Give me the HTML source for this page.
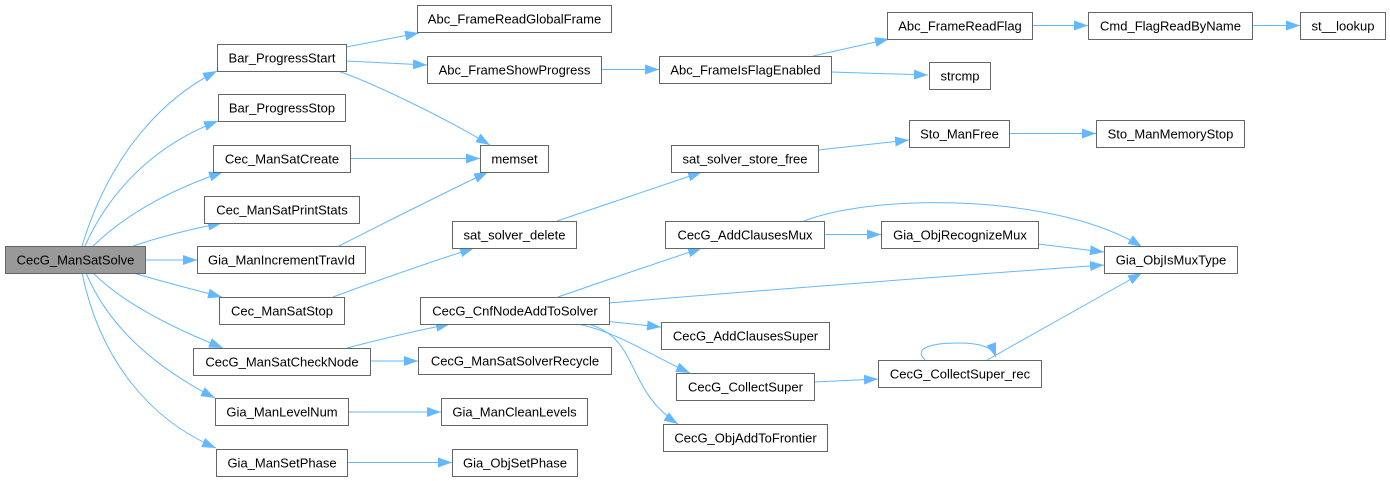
<!DOCTYPE html>
<html>
<head>
<meta charset="utf-8">
<style>
html,body{margin:0;padding:0;background:#fff;}
svg{display:block;}
text{font-family:"Liberation Sans",Arial,sans-serif;font-size:13px;fill:#000;}
.n{fill:#fff;stroke:#666;stroke-width:1;}
.r{fill:#999;stroke:#666;stroke-width:1;}
.e{fill:none;stroke:#63b8ff;stroke-width:1;}
</style>
</head>
<body>
<svg width="1390" height="481" viewBox="0 0 1390 481" xmlns="http://www.w3.org/2000/svg">
<defs>
<marker id="a" viewBox="0 0 14 10" refX="14" refY="5" markerWidth="14" markerHeight="10" markerUnits="userSpaceOnUse" orient="auto">
<path d="M0,0 L14,5 L0,10 z" fill="#63b8ff"/>
</marker>
</defs>

<!-- edges -->
<g>
<path class="e" marker-end="url(#a)" d="M82,246 C105,170 150,105 217,71"/>
<path class="e" marker-end="url(#a)" d="M85,246 C110,190 155,145 218,121"/>
<path class="e" marker-end="url(#a)" d="M93,246 C125,215 170,190 223,172"/>
<path class="e" marker-end="url(#a)" d="M133,246 Q175,232 222,223"/>
<path class="e" marker-end="url(#a)" d="M146,260 L197,260"/>
<path class="e" marker-end="url(#a)" d="M133,273 Q175,285 222,297"/>
<path class="e" marker-end="url(#a)" d="M93,273 C120,300 165,325 223,348"/>
<path class="e" marker-end="url(#a)" d="M86,273 C110,330 160,370 215,398"/>
<path class="e" marker-end="url(#a)" d="M82,273 C100,360 150,420 216,448"/>

<path class="e" marker-end="url(#a)" d="M346,47 L419,33"/>
<path class="e" marker-end="url(#a)" d="M346,61 L427,65"/>
<path class="e" marker-end="url(#a)" d="M338,71 C370,82 440,115 490,145"/>
<path class="e" marker-end="url(#a)" d="M350,158.5 L480,158.5"/>
<path class="e" marker-end="url(#a)" d="M337,247 C390,220 440,195 488,172"/>
<path class="e" marker-end="url(#a)" d="M601,69.5 L659,69.5"/>
<path class="e" marker-end="url(#a)" d="M813,56 L889,39"/>
<path class="e" marker-end="url(#a)" d="M831,72 L928,75"/>
<path class="e" marker-end="url(#a)" d="M1032,25.5 L1088,25.5"/>
<path class="e" marker-end="url(#a)" d="M1252,25.5 L1300,25.5"/>
<path class="e" marker-end="url(#a)" d="M333,297 Q400,272 474,248"/>
<path class="e" marker-end="url(#a)" d="M557,221 Q630,196 702,172"/>
<path class="e" marker-end="url(#a)" d="M818,150 L909,140"/>
<path class="e" marker-end="url(#a)" d="M1010,133.5 L1096,133.5"/>
<path class="e" marker-end="url(#a)" d="M347,348 Q400,334 450,324"/>
<path class="e" marker-end="url(#a)" d="M370,361 L418,361"/>
<path class="e" marker-end="url(#a)" d="M348,412 L441,412"/>
<path class="e" marker-end="url(#a)" d="M347,462.5 L452,462.5"/>
<path class="e" marker-end="url(#a)" d="M558,297 Q630,272 702,248"/>
<path class="e" marker-end="url(#a)" d="M609,303 Q850,283 1104,265"/>
<path class="e" marker-end="url(#a)" d="M609,321.5 L661,327"/>
<path class="e" marker-end="url(#a)" d="M578,324 C620,333 650,355 690,373"/>
<path class="e" marker-end="url(#a)" d="M588,324 C640,338 625,390 678,424"/>
<path class="e" marker-end="url(#a)" d="M824,234.5 L881,234.5"/>
<path class="e" marker-end="url(#a)" d="M804,221 C880,192 1060,195 1142,247"/>
<path class="e" marker-end="url(#a)" d="M1038,244 L1104,252"/>
<path class="e" marker-end="url(#a)" d="M814,382 L878,379"/>
<path class="e" marker-end="url(#a)" d="M987,360 L1142,273"/>
<path class="e" marker-end="url(#a)" d="M925,360 C912,347 935,343 958,343 C978,343 992,346 996,357"/>
</g>

<!-- nodes -->
<g text-anchor="middle">
<rect class="r" x="5.5" y="246.5" width="140" height="27"/><text x="75.5" y="264.5">CecG_ManSatSolve</text>

<rect class="n" x="217.5" y="44.5" width="129" height="27"/><text x="282" y="62.5">Bar_ProgressStart</text>
<rect class="n" x="218.5" y="94.5" width="127" height="27"/><text x="282" y="112.5">Bar_ProgressStop</text>
<rect class="n" x="213.5" y="145.5" width="137" height="27"/><text x="282" y="163.5">Cec_ManSatCreate</text>
<rect class="n" x="204.5" y="196.5" width="155" height="27"/><text x="282" y="214.5">Cec_ManSatPrintStats</text>
<rect class="n" x="197.5" y="246.5" width="168" height="27"/><text x="281.5" y="264.5">Gia_ManIncrementTravId</text>
<rect class="n" x="219.5" y="297.5" width="125" height="27"/><text x="282" y="315.5">Cec_ManSatStop</text>
<rect class="n" x="193.5" y="348.5" width="177" height="27"/><text x="282" y="366.5">CecG_ManSatCheckNode</text>
<rect class="n" x="215.5" y="398.5" width="133" height="27"/><text x="282" y="416.5">Gia_ManLevelNum</text>
<rect class="n" x="216.5" y="449.5" width="131" height="27"/><text x="282" y="467.5">Gia_ManSetPhase</text>

<rect class="n" x="417.5" y="5.5" width="194" height="27"/><text x="514.5" y="23.5">Abc_FrameReadGlobalFrame</text>
<rect class="n" x="427.5" y="56.5" width="174" height="27"/><text x="514.5" y="74.5">Abc_FrameShowProgress</text>
<rect class="n" x="480.5" y="145.5" width="68" height="27"/><text x="514.5" y="163.5">memset</text>
<rect class="n" x="452.5" y="221.5" width="124" height="27"/><text x="514.5" y="239.5">sat_solver_delete</text>
<rect class="n" x="420.5" y="297.5" width="189" height="27"/><text x="515" y="315.5">CecG_CnfNodeAddToSolver</text>
<rect class="n" x="418.5" y="347.5" width="193" height="27"/><text x="515" y="365.5">CecG_ManSatSolverRecycle</text>
<rect class="n" x="441.5" y="398.5" width="146" height="27"/><text x="514.5" y="416.5">Gia_ManCleanLevels</text>
<rect class="n" x="452.5" y="449.5" width="125" height="27"/><text x="515" y="467.5">Gia_ObjSetPhase</text>

<rect class="n" x="659.5" y="56.5" width="172" height="27"/><text x="745.5" y="74.5">Abc_FrameIsFlagEnabled</text>
<rect class="n" x="671.5" y="145.5" width="147" height="27"/><text x="745" y="163.5">sat_solver_store_free</text>
<rect class="n" x="665.5" y="221.5" width="159" height="27"/><text x="745" y="239.5">CecG_AddClausesMux</text>
<rect class="n" x="661.5" y="322.5" width="168" height="27"/><text x="745.5" y="340.5">CecG_AddClausesSuper</text>
<rect class="n" x="676.5" y="373.5" width="138" height="27"/><text x="745.5" y="391.5">CecG_CollectSuper</text>
<rect class="n" x="663.5" y="424.5" width="164" height="27"/><text x="745.5" y="442.5">CecG_ObjAddToFrontier</text>

<rect class="n" x="887.5" y="12.5" width="145" height="27"/><text x="960" y="30.5">Abc_FrameReadFlag</text>
<rect class="n" x="929.5" y="62.5" width="61" height="27"/><text x="960" y="80.5">strcmp</text>
<rect class="n" x="909.5" y="120.5" width="100" height="27"/><text x="959.5" y="138.5">Sto_ManFree</text>
<rect class="n" x="881.5" y="221.5" width="157" height="27"/><text x="960" y="239.5">Gia_ObjRecognizeMux</text>
<rect class="n" x="878.5" y="360.5" width="163" height="27"/><text x="960" y="378.5">CecG_CollectSuper_rec</text>

<rect class="n" x="1088.5" y="12.5" width="164" height="27"/><text x="1170.5" y="30.5">Cmd_FlagReadByName</text>
<rect class="n" x="1096.5" y="120.5" width="148" height="27"/><text x="1170.5" y="138.5">Sto_ManMemoryStop</text>
<rect class="n" x="1104.5" y="246.5" width="133" height="27"/><text x="1171" y="264.5">Gia_ObjIsMuxType</text>

<rect class="n" x="1300.5" y="12.5" width="85" height="27"/><text x="1343" y="30.5">st__lookup</text>
</g>
</svg>
</body>
</html>
